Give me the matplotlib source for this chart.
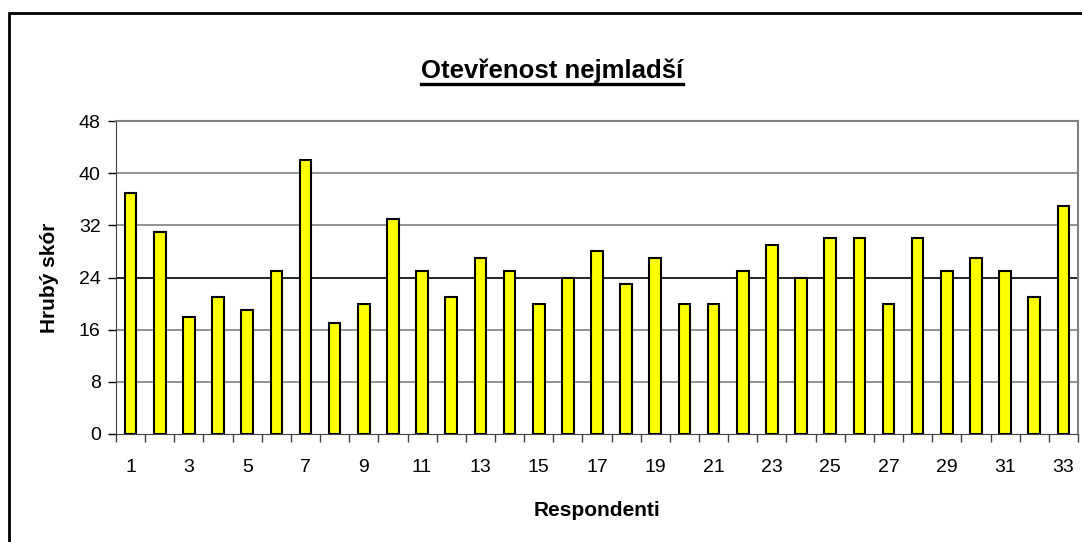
import matplotlib.pyplot as plt
import numpy as np
from matplotlib.lines import Line2D
from matplotlib.patches import Rectangle

plt.rcParams["font.family"] = ["Liberation Sans", "DejaVu Sans"]

respondents = list(range(1, 34))
scores = [37, 31, 18, 21, 19, 25, 42, 17, 20, 33, 25, 21, 27, 25, 20, 24, 28,
          23, 27, 20, 20, 25, 29, 24, 30, 30, 20, 30, 25, 27, 25, 21, 35]
y_ticks = [0, 8, 16, 24, 32, 40, 48]

fig = plt.figure(figsize=(10.82, 5.42), dpi=100)
ax = fig.add_axes([116 / 1082, 1 - 434 / 542, 962 / 1082, 313 / 542])

x = np.arange(len(respondents))
ax.bar(x, scores, width=0.4, color="#FFFF00", edgecolor="black", linewidth=1.5, zorder=3)

ax.set_xlim(-0.5, len(respondents) - 0.5)
ax.set_ylim(0, 48)
ax.set_yticks(y_ticks)
for t in y_ticks[1:]:
    ax.axhline(t, color="black" if t == 24 else "#808080", lw=1.2, zorder=1)

# ticks between categories, labels under odd respondents
ax.set_xticks(np.arange(-0.5, len(respondents)), labels=[])
ax.set_xticks(x[::2], labels=[str(r) for r in respondents[::2]], minor=True)
ax.tick_params(axis="x", which="major", direction="out", length=6, width=1, color="#404040")
ax.tick_params(axis="x", which="minor", length=0, pad=18, labelsize=14)
ax.tick_params(axis="y", direction="out", length=6, width=1, labelsize=14, pad=5)

for side in ["top", "right"]:
    ax.spines[side].set_color("#808080")
    ax.spines[side].set_linewidth(1.5)
ax.spines["left"].set_color("#404040")
ax.spines["bottom"].set_color("#404040")

ax.set_xlabel("Respondenti", fontsize=15, fontweight="bold", labelpad=18)
ax.set_ylabel("Hrubý skór", fontsize=15, fontweight="bold", labelpad=14)

title = fig.text(552 / 1082, 1 - 78 / 542, "Otevřenost nejmladší", fontsize=18.5,
                 fontweight="bold", ha="center", va="baseline")
fig.canvas.draw()
bb = title.get_window_extent().transformed(fig.transFigure.inverted())
uy = 1 - 83.5 / 542
fig.add_artist(Line2D([bb.x0, bb.x1], [uy, uy], color="black", lw=2.4,
                      transform=fig.transFigure))

# outer chart frame (only left and top visible)
fig.add_artist(Rectangle((9 / 1082, -0.1), 1.2, 1 - 13 / 542 + 0.1,
                         transform=fig.transFigure, fill=False,
                         edgecolor="black", lw=2))

fig.savefig("out.png", dpi=100)
